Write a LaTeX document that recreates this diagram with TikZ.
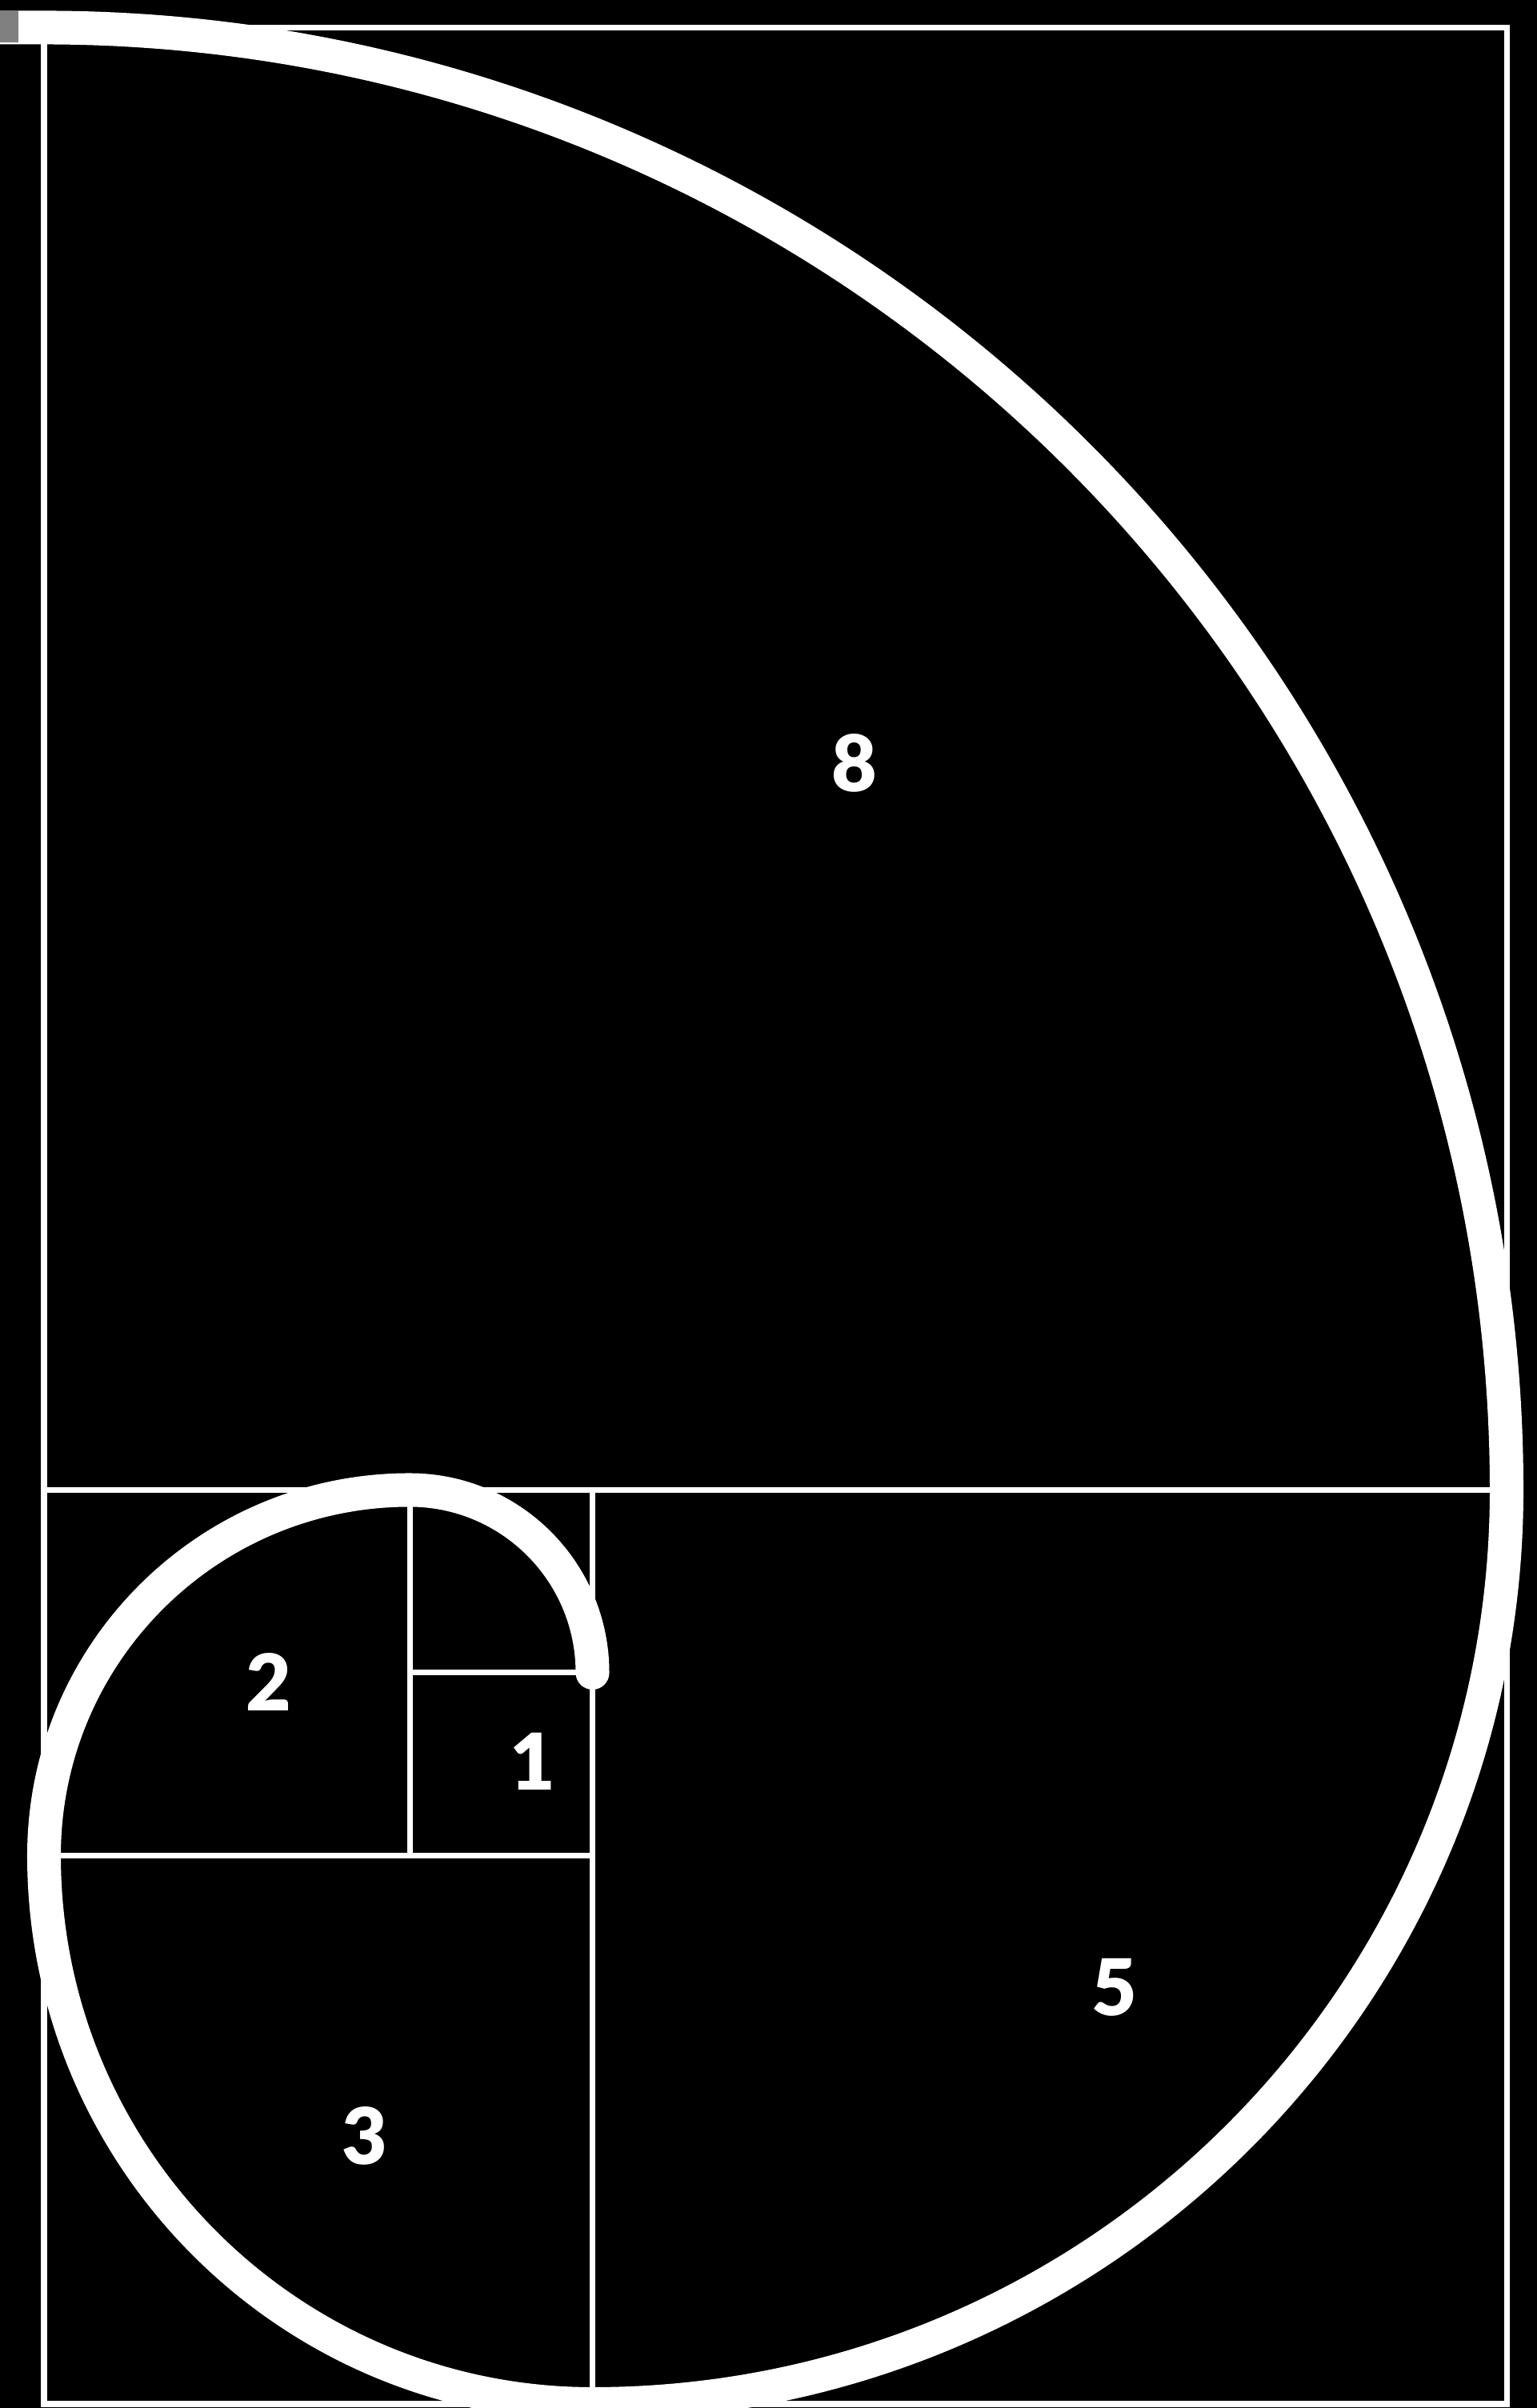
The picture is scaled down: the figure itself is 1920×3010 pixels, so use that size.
\documentclass[tikz,border=0pt]{standalone}
\usepackage{fontspec}
\setmainfont{Lato}
\newfontfamily\numfont{Lato Black}
\begin{document}
\begin{tikzpicture}[x=0.01cm,y=0.01cm,
  gridline/.style={white,line width=0.07cm},
  spiral/.style={white,line width=0.42cm,line cap=round,line join=round},
  numlabel/.style={text=white,font=\numfont\fontsize{27.8pt}{30pt}\selectfont,inner sep=0pt}]
\useasboundingbox (0,0) rectangle (1920,3010);
\fill[black] (-20,-20) rectangle (1940,3030);
% grid of squares
\draw[gridline] (55,5) rectangle (1883,2975.5);
\draw[gridline] (55,1147.5) -- (1883,1147.5);
\draw[gridline] (740.5,1147.5) -- (740.5,5);
\draw[gridline] (55,690.5) -- (740.5,690.5);
\draw[gridline] (512,1147.5) -- (512,690.5);
\draw[gridline] (512,919) -- (740.5,919);
% spiral
\coordinate (s0) at (740.5,919);
\coordinate (s6) at (0,2975.5);
\draw[spiral] (s0)
  arc[start angle=0,end angle=90,radius=228.5]
  arc[start angle=90,end angle=180,radius=457]
  arc[start angle=180,end angle=270,radius=685.5]
  arc[start angle=270,end angle=360,radius=1142.5]
  arc[start angle=0,end angle=90,radius=1828]
  -- (s6);
\fill[gray] (0,2957) rectangle (23,2997);
% labels
\node[numlabel] (l8) at (1068,2056) {8};
\node[numlabel] (l2) at (336,907) {2};
\node[numlabel] (l1) at (666,808) {1};
\node[numlabel] (l5) at (1393,526) {5};
\node[numlabel] (l3) at (456,340) {3};
\end{tikzpicture}
\end{document}
